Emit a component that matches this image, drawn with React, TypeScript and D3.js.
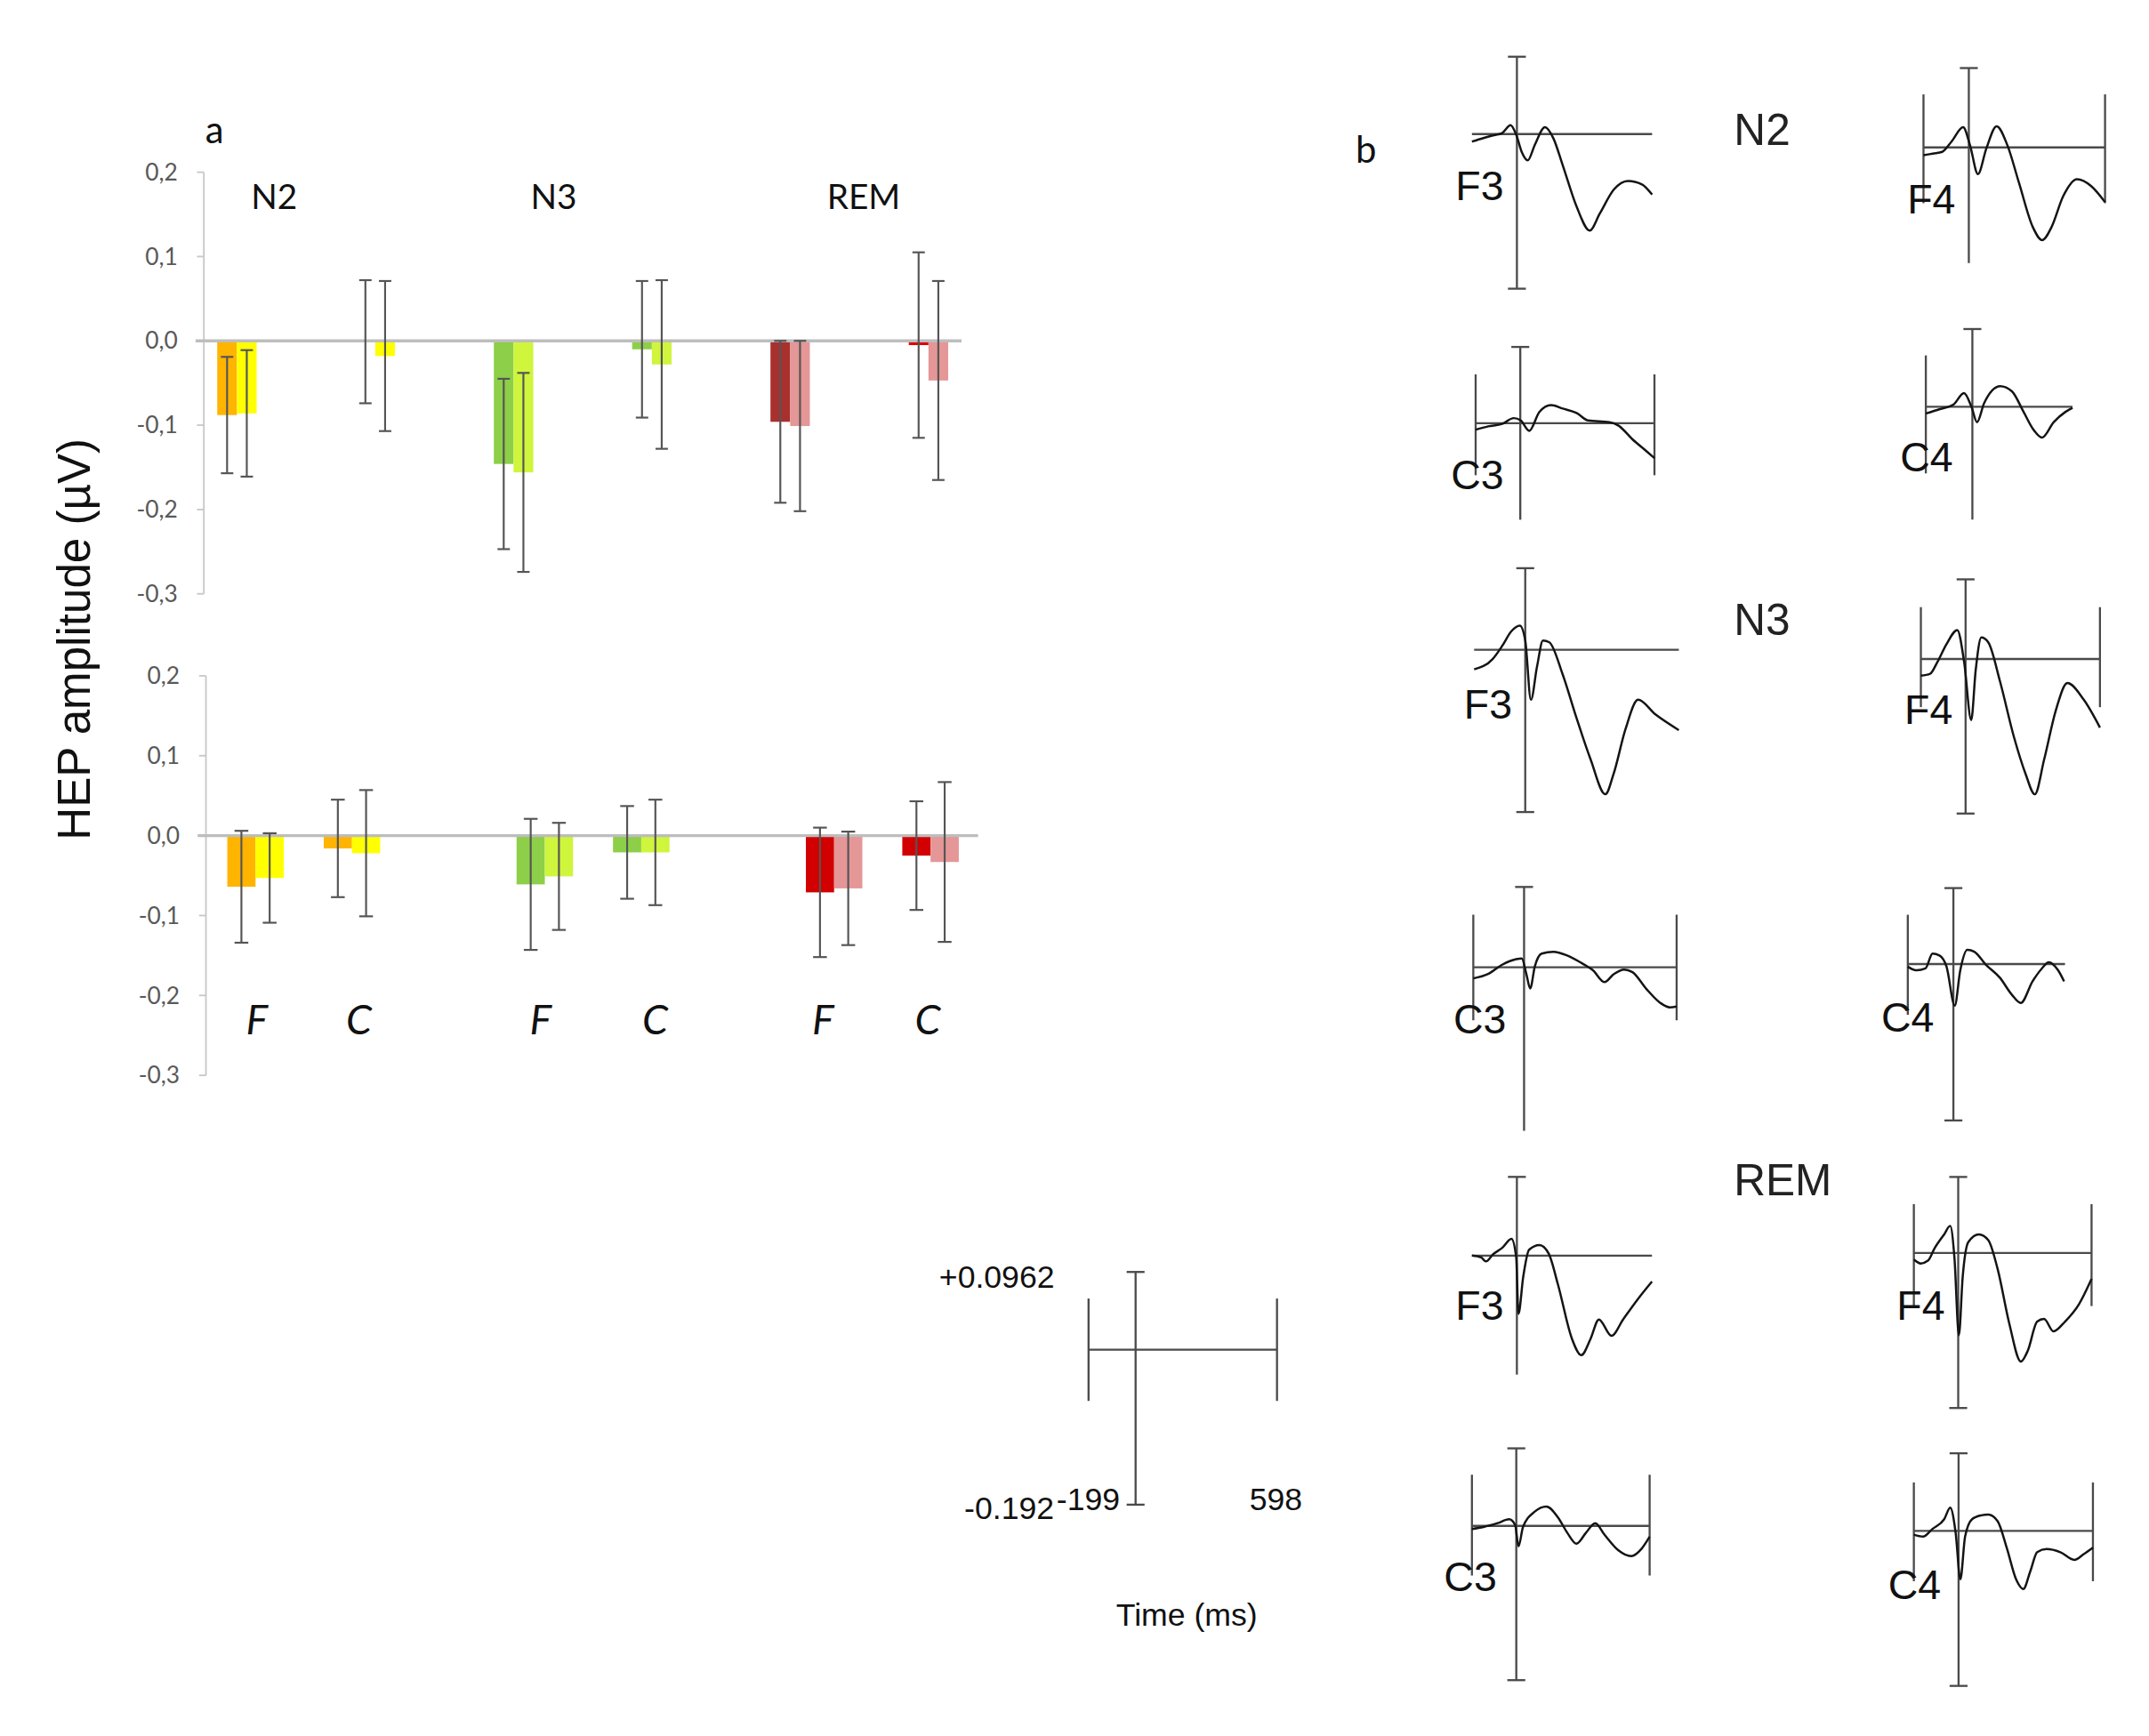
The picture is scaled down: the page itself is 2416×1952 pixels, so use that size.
import React from 'react';
import * as d3 from 'd3';

// ---- panel a: mean HEP amplitude (µV) and error, two series per slot ----
const slots = ['N2 F', 'N2 C', 'N3 F', 'N3 C', 'REM F', 'REM C'];
const stages = ['N2', 'N3', 'REM'];
const sites = ['F', 'C', 'F', 'C', 'F', 'C'];

const topMean1 = [-0.088, -0.001, -0.146, -0.010, -0.096, -0.005];
const topErr1 = [0.069, 0.073, 0.101, 0.081, 0.096, 0.110];
const topMean2 = [-0.086, -0.018, -0.156, -0.028, -0.101, -0.047];
const topErr2 = [0.075, 0.089, 0.118, 0.100, 0.101, 0.118];

const botMean1 = [-0.064, -0.016, -0.061, -0.021, -0.071, -0.025];
const botErr1 = [0.070, 0.061, 0.082, 0.058, 0.081, 0.068];
const botMean2 = [-0.053, -0.022, -0.051, -0.021, -0.066, -0.033];
const botErr2 = [0.056, 0.079, 0.067, 0.066, 0.071, 0.100];

const topColors1 = ['#ffb400', '#ffb400', '#8dcf48', '#8dcf48', '#a8302d', '#e00000'];
const botColors1 = ['#ffb400', '#ffb400', '#8dcf48', '#8dcf48', '#d20000', '#d20000'];
const colors2 = ['#ffff00', '#ffff00', '#cff53c', '#cff53c', '#e59696', '#e59696'];

const yTicks = [-0.3, -0.2, -0.1, 0, 0.1, 0.2];

// ---- panel b: grand-average HEP waveforms, [time ms, amplitude µV] ----
const n2F3: [number, number][] = [[-199,-0.0094],[-148,-0.005],[-106,-0.0017],[-65,0.0013],[-28,0.0111],[-3,-0.0009],[21,-0.0221],[48,-0.0327],[79,-0.0136],[124,0.0085],[161,-0.0051],[203,-0.0391],[264,-0.0901],[322,-0.1199],[367,-0.0986],[429,-0.0688],[491,-0.0582],[553,-0.0625],[598,-0.0752]];
const n2F4: [number, number][] = [[-199,-0.0116],[-158,-0.0091],[-117,-0.0066],[-76,0.0086],[-25,0.0298],[5,0.0035],[40,-0.0394],[77,-0.0015],[122,0.0313],[169,0.0035],[220,-0.0521],[281,-0.1178],[322,-0.137],[363,-0.1178],[414,-0.0723],[475,-0.047],[537,-0.0571],[598,-0.0809]];
const n2C3: [number, number][] = [[-199,-0.0108],[-143,-0.0051],[-81,-0.0011],[-29,0.0086],[2,0.0046],[40,-0.0126],[85,0.0188],[137,0.0302],[189,0.0245],[251,0.0171],[303,0.0046],[397,0.0017],[438,-0.004],[500,-0.0268],[563,-0.0468],[598,-0.0582]];
const n2C4: [number, number][] = [[-199,-0.0103],[-139,-0.0036],[-80,0.0036],[-36,0.0207],[-4,0],[20,-0.0233],[50,0.0052],[119,0.031],[169,0.0233],[219,-0.0078],[259,-0.0336],[298,-0.0466],[348,-0.0233],[398,-0.0078],[428,-0.0016]];
const n3F3: [number, number][] = [[-199,-0.0232],[-127,-0.011],[-90,0.0044],[-54,0.0219],[-21,0.0285],[0,0.011],[22,-0.0591],[46,-0.0197],[69,0.011],[94,0.0088],[145,-0.0285],[200,-0.081],[254,-0.1292],[312,-0.1708],[344,-0.1467],[390,-0.0942],[439,-0.0591],[508,-0.0767],[598,-0.095]];
const n3F4: [number, number][] = [[-199,-0.0205],[-158,-0.0182],[-127,-0.0046],[-85,0.0182],[-37,0.0356],[-6,-0.0046],[25,-0.0752],[45,-0.0137],[70,0.0264],[101,0.0205],[153,-0.0274],[215,-0.0958],[267,-0.1414],[308,-0.1665],[350,-0.1232],[401,-0.0638],[453,-0.0296],[526,-0.0502],[598,-0.0844]];
const n3C3: [number, number][] = [[-199,-0.0131],[-141,-0.0079],[-86,0.0031],[-31,0.0096],[-9,0.0105],[9,-0.0079],[24,-0.025],[42,0.0009],[69,0.0162],[115,0.0184],[169,0.014],[224,0.0053],[270,-0.0035],[315,-0.0175],[352,-0.0079],[392,-0.0026],[425,-0.0057],[479,-0.0254],[534,-0.042],[571,-0.0473],[598,-0.0464]];
const n3C4: [number, number][] = [[-199,-0.0032],[-162,-0.0078],[-122,-0.0055],[-91,0.0129],[-61,0.0106],[-30,-0.0032],[6,-0.0515],[30,-0.0078],[61,0.0175],[91,0.0152],[142,-0.0009],[203,-0.017],[254,-0.0377],[294,-0.0483],[345,-0.0216],[386,-0.0055],[416,0.0023],[457,-0.0078],[483,-0.0216]];
const remF3: [number, number][] = [[-199,0],[-158,-0.0028],[-137,-0.0085],[-106,0.0017],[-65,0.0113],[-24,0.0243],[-3,-0.0028],[7,-0.0848],[28,-0.0311],[54,0.0085],[100,0.0153],[141,0.0028],[182,-0.0424],[244,-0.1215],[285,-0.1452],[326,-0.1215],[363,-0.0932],[419,-0.117],[470,-0.0932],[532,-0.065],[598,-0.0379]];
const remF4: [number, number][] = [[-199,-0.0082],[-168,-0.0131],[-136,-0.0097],[-105,0.0063],[-63,0.0232],[-36,0.0338],[-17,-0.0058],[3,-0.1025],[20,-0.03],[45,0.0135],[93,0.0232],[135,0.016],[177,-0.0203],[229,-0.088],[281,-0.1354],[312,-0.1219],[354,-0.0856],[385,-0.0822],[427,-0.0977],[479,-0.0856],[542,-0.0638],[598,-0.0324]];
const remC3: [number, number][] = [[-199,-0.0039],[-147,-0.0014],[-84,0.0034],[-32,0.0082],[-5,0.001],[10,-0.0255],[30,-0.0014],[83,0.0178],[135,0.0241],[187,0.0106],[229,-0.0087],[270,-0.0222],[312,-0.0087],[354,0.0034],[396,-0.0111],[458,-0.0304],[515,-0.0376],[563,-0.028],[598,-0.0135]];
const remC4: [number, number][] = [[-199,-0.0048],[-158,-0.0072],[-116,0.0024],[-64,0.0144],[-37,0.0288],[-13,-0.0024],[8,-0.06],[29,-0.0072],[60,0.0144],[101,0.0192],[132,0.0202],[174,0.012],[215,-0.0216],[256,-0.06],[288,-0.072],[319,-0.0504],[350,-0.0264],[391,-0.0226],[453,-0.0264],[515,-0.036],[557,-0.0288],[598,-0.0207]];

// vertical (t = 0) bar range and side bar range for each small plot, µV
const capRanges = [[0.0961,-0.1921],[0.1173,-0.1709],[0.1273,-0.1609],[0.1175,-0.1707],[0.0964,-0.1918],[0.098,-0.1902],[0.095,-0.1932],[0.0942,-0.194],[0.1147,-0.1735],[0.0948,-0.1934],[0.0964,-0.1918],[0.0961,-0.1921]];
const sideRanges = [null,[0.0784,-0.0824],[0.0816,-0.0867],[0.0776,-0.1009],null,[0.0638,-0.0593],[0.0622,-0.0626],[0.0611,-0.063],null,[0.0609,-0.0662],[0.0636,-0.0617],[0.06,-0.0624]];
const traceEnds = [598, 598, 598, 428, 598, 598, 598, 487, 598, 598, 598, 598];
const electrodes = ['F3', 'F4', 'C3', 'C4', 'F3', 'F4', 'C3', 'C4', 'F3', 'F4', 'C3', 'C4'];
const traces = [n2F3, n2F4, n2C3, n2C4, n3F3, n3F4, n3C3, n3C4, remF3, remF4, remC3, remC4];

const timeRange = [-199, 598];
const scaleAmp = [0.0962, -0.192];
const scaleSide = [0.0633, -0.0635];

// layout of the small plots (page units): x at -199 ms, x at 598 ms, y at 0 µV, px per µV
const frames = [
  { xL: 1068.5, xR: 1199.3, y0: 97.3, k: 584.2, lx: 1056.6, ly: 145, bottomCap: true, sides: 'both' },
  { xL: 1396.3, xR: 1528.1, y0: 107.0, k: 491.1, lx: 1384.5, ly: 155, bottomCap: false, sides: 'both' },
  { xL: 1071.2, xR: 1201.0, y0: 307.2, k: 435.1, lx: 1053.3, ly: 355, bottomCap: false, sides: 'both' },
  { xL: 1398.0, xR: 1533.3, y0: 295.2, k: 479.9, lx: 1379.4, ly: 342.4, bottomCap: false, sides: 'left' },
  { xL: 1070.1, xR: 1218.7, y0: 471.6, k: 614.1, lx: 1062.7, ly: 521.3, bottomCap: true, sides: 'both' },
  { xL: 1394.4, xR: 1524.4, y0: 478.3, k: 589.8, lx: 1382.5, ly: 525.4, bottomCap: true, sides: 'both' },
  { xL: 1069.5, xR: 1217.1, y0: 702.1, k: 614.1, lx: 1055.0, ly: 750, bottomCap: false, sides: 'both' },
  { xL: 1384.9, xR: 1517.5, y0: 699.7, k: 585.2, lx: 1365.7, ly: 748.6, bottomCap: true, sides: 'left' },
  { xL: 1068.5, xR: 1199.2, y0: 911.3, k: 497.9, lx: 1056.6, ly: 957.8, bottomCap: false, sides: 'both' },
  { xL: 1389.3, xR: 1518.3, y0: 909.4, k: 581.9, lx: 1376.8, ly: 957.8, bottomCap: true, sides: 'both' },
  { xL: 1068.5, xR: 1197.5, y0: 1107.5, k: 583.8, lx: 1048.2, ly: 1154.7, bottomCap: true, sides: 'both' },
  { xL: 1389.3, xR: 1519.3, y0: 1111.1, k: 585.8, lx: 1370.7, ly: 1160.4, bottomCap: true, sides: 'both' },
];

const W = 1560;
const H = 1260;
const calibri = 'Lato, "Open Sans", sans-serif';
const arial = '"Liberation Sans", Arial, sans-serif';
const fmt = d3.formatLocale({ decimal: ',', thousands: '.', grouping: [3], currency: ['', ''], minus: '-' }).format('.1f');

const ERR = '#555';
const FRAME = '#4a4a4a';

function BarChart({ top }: { top: boolean }) {
  const axisX = top ? 148 : 149.5;
  const y = d3.scaleLinear().domain([-0.3, 0.2]).range(top ? [431, 125] : [780.5, 490.5]);
  const bottomSlots = ['N2 F', 'N2 C', 'gap1', 'N3 F', 'N3 C', 'gap2', 'REM F', 'REM C'];
  const xPoint = d3.scalePoint().domain(slots).range([172, 674]);
  const xBand = d3.scaleBand().domain(bottomSlots).range([150.5, 710.5]);
  const cx = (s: string) => (top ? (xPoint(s) as number) : (xBand(s) as number) + xBand.bandwidth() / 2);
  const bw = top ? 14.3 : 20.5;
  const cap = top ? 4.5 : 5;
  const m1 = top ? topMean1 : botMean1;
  const e1 = top ? topErr1 : botErr1;
  const m2 = top ? topMean2 : botMean2;
  const e2 = top ? topErr2 : botErr2;
  const c1 = top ? topColors1 : botColors1;
  const zeroEnd = top ? 698 : 710;

  const errBar = (x: number, m: number, e: number, key: string) => (
    <g key={key} stroke={ERR} strokeWidth={1.4}>
      <line x1={x} x2={x} y1={y(m + e)} y2={y(m - e)} />
      <line x1={x - cap} x2={x + cap} y1={y(m + e)} y2={y(m + e)} />
      <line x1={x - cap} x2={x + cap} y1={y(m - e)} y2={y(m - e)} />
    </g>
  );

  return (
    <g>
      <line x1={axisX} x2={axisX} y1={y(0.2)} y2={y(-0.3)} stroke="#c8c8c8" strokeWidth={1.2} />
      {yTicks.map((t) => (
        <g key={t}>
          <line x1={axisX - 5} x2={axisX} y1={y(t)} y2={y(t)} stroke="#c8c8c8" strokeWidth={1.2} />
          <text x={axisX - 19} y={y(t)} dy="0.35em" textAnchor="end" fontFamily={calibri} fontSize={17} fill="#595959">
            {fmt(t)}
          </text>
        </g>
      ))}
      {slots.map((s, i) => {
        const x = cx(s);
        return (
          <g key={s}>
            <rect x={x - bw} width={bw} y={Math.min(y(0), y(m1[i]))} height={Math.abs(y(m1[i]) - y(0))} fill={c1[i]} />
            <rect x={x} width={bw} y={Math.min(y(0), y(m2[i]))} height={Math.abs(y(m2[i]) - y(0))} fill={colors2[i]} />
          </g>
        );
      })}
      <line x1={axisX - 6} x2={zeroEnd} y1={y(0)} y2={y(0)} stroke="#bdbdbd" strokeWidth={2.2} />
      {slots.map((s, i) => {
        const x = cx(s);
        return (
          <g key={'e' + s}>
            {errBar(x - bw / 2, m1[i], e1[i], 'a')}
            {errBar(x + bw / 2, m2[i], e2[i], 'b')}
          </g>
        );
      })}
      {top &&
        stages.map((st, i) => (
          <text key={st} x={[199, 402, 627][i]} y={152} textAnchor="middle" fontFamily={calibri} fontSize={25} fill="#111">
            {st}
          </text>
        ))}
      {!top &&
        slots.map((s, i) => (
          <text key={'l' + s} x={cx(s) + [1, 5, -3, 10, -8, -2][i]} y={750.8} textAnchor="middle" fontFamily={calibri} fontStyle="italic" fontSize={30} fill="#111">
            {sites[i]}
          </text>
        ))}
    </g>
  );
}

function Wave({ i }: { i: number }) {
  const f = frames[i];
  const x = d3.scaleLinear().domain(timeRange).range([f.xL, f.xR]);
  const y = d3.scaleLinear().domain([0, 0.1]).range([f.y0, f.y0 - f.k * 0.1]);
  const line = d3
    .line<[number, number]>()
    .x((d) => x(d[0]))
    .y((d) => y(d[1]))
    .curve(d3.curveMonotoneX);
  const [vt, vb] = capRanges[i];
  const side = sideRanges[i];
  const x0 = x(0);
  const c = 6.5;
  return (
    <g>
      <g stroke={FRAME} strokeWidth={1.5} fill="none">
        <line x1={x(timeRange[0])} x2={x(traceEnds[i])} y1={y(0)} y2={y(0)} />
        <line x1={x0} x2={x0} y1={y(vt)} y2={y(vb)} />
        <line x1={x0 - c} x2={x0 + c} y1={y(vt)} y2={y(vt)} />
        {f.bottomCap && <line x1={x0 - c} x2={x0 + c} y1={y(vb)} y2={y(vb)} />}
        {side && <line x1={x(timeRange[0])} x2={x(timeRange[0])} y1={y(side[0])} y2={y(side[1])} />}
        {side && f.sides === 'both' && <line x1={x(timeRange[1])} x2={x(timeRange[1])} y1={y(side[0])} y2={y(side[1])} />}
      </g>
      <path d={line(traces[i]) as string} fill="none" stroke="#141414" strokeWidth={1.6} />
      <text x={f.lx} y={f.ly} fontFamily={arial} fontSize={30} fill="#111">
        {electrodes[i]}
      </text>
    </g>
  );
}

function ScaleLegend() {
  const x = d3.scaleLinear().domain(timeRange).range([790.2, 927]);
  const y = d3.scaleLinear().domain([scaleAmp[1], scaleAmp[0]]).range([1092.1, 923.2]);
  const x0 = x(0);
  const c = 6.5;
  return (
    <g>
      <g stroke={FRAME} strokeWidth={1.5}>
        <line x1={x(timeRange[0])} x2={x(timeRange[1])} y1={y(0)} y2={y(0)} />
        <line x1={x0} x2={x0} y1={y(scaleAmp[0])} y2={y(scaleAmp[1])} />
        <line x1={x0 - c} x2={x0 + c} y1={y(scaleAmp[0])} y2={y(scaleAmp[0])} />
        <line x1={x0 - c} x2={x0 + c} y1={y(scaleAmp[1])} y2={y(scaleAmp[1])} />
        <line x1={x(timeRange[0])} x2={x(timeRange[0])} y1={y(scaleSide[0])} y2={y(scaleSide[1])} />
        <line x1={x(timeRange[1])} x2={x(timeRange[1])} y1={y(scaleSide[0])} y2={y(scaleSide[1])} />
      </g>
      <g fontFamily={arial} fontSize={23} fill="#111">
        <text x={765.5} y={935} textAnchor="end">+{scaleAmp[0]}</text>
        <text x={700} y={1102.7}>{scaleAmp[1]}</text>
        <text x={767} y={1096.3}>{timeRange[0]}</text>
        <text x={907} y={1096.3}>{timeRange[1]}</text>
        <text x={861.5} y={1180} textAnchor="middle">Time (ms)</text>
      </g>
    </g>
  );
}

export default function App() {
  return (
    <svg
      width={2416}
      height={1952}
      viewBox={`0 0 ${W} ${H}`}
      preserveAspectRatio="none"
      style={{ position: 'absolute', left: 0, top: 0, display: 'block', background: '#fff' }}
    >
      <rect x={0} y={0} width={W} height={H} fill="#fff" />
      <text x={149} y={104} fontFamily={calibri} fontSize={27} fill="#111">a</text>
      <text x={984} y={118} fontFamily={calibri} fontSize={27} fill="#111">b</text>
      <text
        transform="translate(65,464) rotate(-90)"
        textAnchor="middle"
        fontFamily={arial}
        fontSize={33}
        fill="#111"
      >
        HEP amplitude (µV)
      </text>
      <BarChart top={true} />
      <BarChart top={false} />
      {frames.map((_, i) => (
        <Wave key={i} i={i} />
      ))}
      <g fontFamily={arial} fontSize={32} fill="#222">
        <text x={1258.7} y={105.3}>{stages[0]}</text>
        <text x={1258.6} y={460.8}>{stages[1]}</text>
        <text x={1258.6} y={867.7}>{stages[2]}</text>
      </g>
      <ScaleLegend />
    </svg>
  );
}
